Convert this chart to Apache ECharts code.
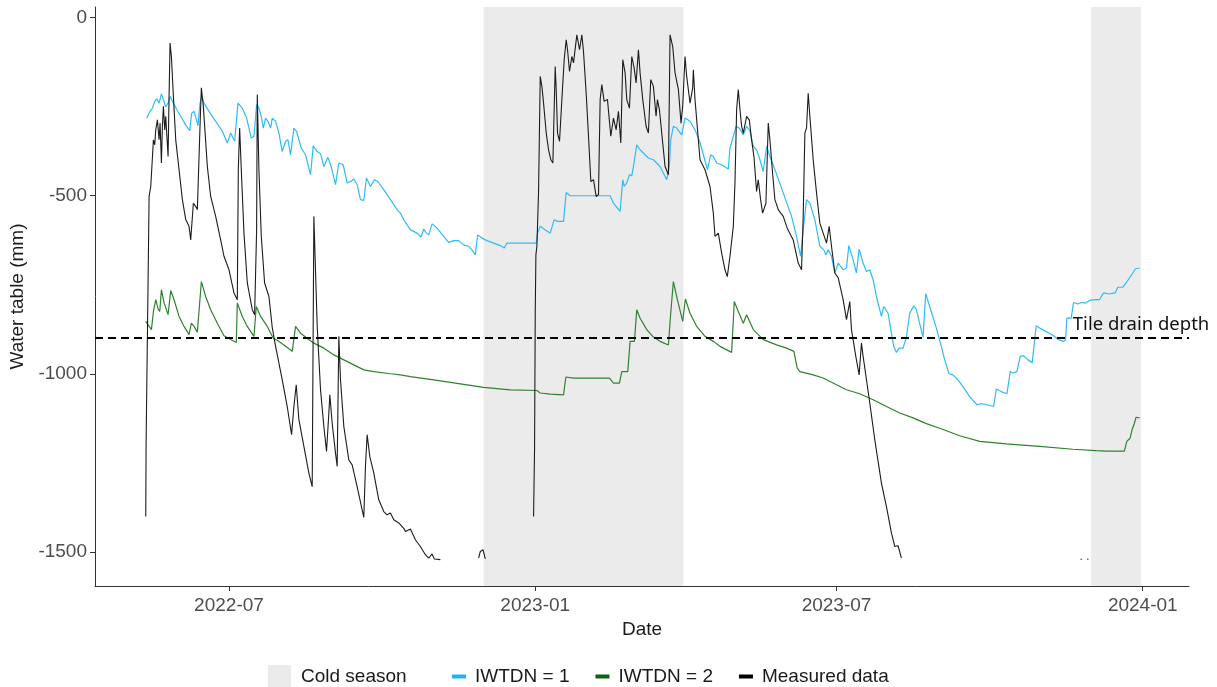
<!DOCTYPE html>
<html>
<head>
<meta charset="utf-8">
<script src="https://cdn.jsdelivr.net/npm/echarts@6/dist/echarts.min.js"></script>
<style>
  html, body { margin: 0; padding: 0; background: #ffffff; }
  #chart { width: 1217px; height: 687px; }
</style>
</head>
<body>
<div id="chart"></div>
<script>
// Day numbers below count days since this date (UTC)
const START_DATE = Date.UTC(2022, 4, 2);
const DAY_MS = 86400000;

// Simulated water table, IWTDN = 1  [day, mm]
const iwtdn1 = [
  [10.6,-282],[11.4,-287],[12.6,-263],[14.0,-254],[15.4,-235],[16.6,-228],[18.0,-240],[19.4,-214],
  [20.6,-230],[22.0,-251],[23.4,-240],[24.6,-221],[26.0,-235],[28.6,-258],[31.0,-277],[34.0,-301],
  [36.4,-317],[37.6,-268],[39.0,-263],[41.4,-303],[42.6,-240],[43.6,-221],[45.0,-240],[48.0,-263],
  [52.0,-291],[56.0,-319],[59.0,-352],[61.0,-324],[63.4,-347],[65.4,-240],[68.0,-254],[70.6,-282],
  [73.4,-338],[75.0,-333],[76.6,-244],[78.0,-254],[79.4,-277],[80.6,-310],[82.0,-282],[83.4,-291],
  [85.0,-310],[86.0,-282],[88.0,-291],[90.0,-324],[92.0,-376],[94.0,-347],[95.4,-343],[97.0,-385],
  [99.0,-310],[100.6,-319],[103.4,-366],[106.0,-385],[109.0,-441],[110.6,-360],[113.0,-376],[115.0,-382],
  [117.0,-418],[119.4,-392],[121.4,-418],[124.0,-469],[126.0,-408],[128.6,-413],[131.0,-464],[133.0,-460],
  [135.0,-453],[137.0,-469],[139.0,-511],[141.0,-513],[142.6,-450],[145.0,-474],[147.4,-455],[149.4,-460],
  [153.0,-483],[157.0,-511],[161.0,-539],[163.0,-549],[165.0,-567],[169.0,-596],[173.0,-605],[175.4,-616],
  [177.0,-594],[178.6,-605],[180.0,-610],[182.0,-579],[185.0,-591],[189.0,-614],[192.0,-631],[195.0,-626],
  [198.0,-626],[201.0,-638],[204.0,-642],[206.0,-652],[208.0,-666],[209.4,-610],[212.0,-619],[215.0,-626],
  [219.0,-633],[223.0,-640],[225.4,-647],[227.0,-633],[244.6,-633],[245.4,-605],[247.0,-586],[250.0,-596],
  [253.0,-605],[255.4,-567],[257.0,-572],[261.0,-572],[262.6,-491],[265.0,-500],[289.0,-500],[291.0,-521],
  [295.0,-544],[296.6,-455],[297.4,-474],[299.0,-464],[300.6,-441],[302.0,-444],[303.0,-418],[305.0,-357],
  [307.0,-371],[310.0,-385],[312.0,-394],[315.0,-399],[319.0,-418],[323.0,-455],[324.6,-418],[325.4,-343],
  [327.0,-305],[329.0,-310],[332.0,-329],[334.0,-282],[337.0,-291],[340.0,-315],[343.0,-350],[345.0,-385],
  [347.5,-427],[349.4,-385],[351.0,-390],[353.0,-408],[356.0,-413],[360.0,-425],[361.0,-366],[363.0,-333],
  [364.6,-305],[366.6,-310],[369.0,-329],[371.0,-305],[373.0,-319],[375.0,-361],[377.0,-371],[379.0,-399],
  [381.0,-432],[383.0,-361],[385.0,-390],[388.0,-427],[393.0,-492],[398.0,-558],[401.0,-614],[403.4,-670],
  [405.0,-596],[407.0,-511],[409.0,-521],[412.0,-567],[415.0,-642],[417.4,-652],[418.6,-666],[420.0,-652],
  [422.0,-670],[424.0,-717],[426.0,-689],[429.0,-708],[431.0,-703],[432.4,-640],[435.0,-680],[437.0,-717],
  [438.6,-650],[441.0,-689],[443.0,-713],[445.0,-708],[447.0,-736],[449.0,-783],[452.0,-839],[453.4,-811],
  [456.0,-830],[458.0,-886],[459.4,-923],[461.0,-940],[462.6,-928],[465.0,-928],[467.0,-897],[469.0,-830],
  [471.4,-809],[473.0,-820],[475.4,-867],[477.0,-897],[478.6,-775],[481.0,-811],[485.0,-872],[488.0,-923],
  [490.0,-961],[492.6,-1000],[495.0,-1003],[498.0,-1017],[501.0,-1036],[505.0,-1064],[509.4,-1087],[512.0,-1084],
  [515.4,-1087],[519.4,-1092],[521.0,-1043],[524.0,-1050],[527.4,-1056],[529.4,-994],[531.0,-998],[533.4,-994],
  [535.4,-951],[537.4,-949],[540.0,-961],[542.6,-968],[545.0,-865],[548.0,-874],[552.0,-884],[555.4,-893],
  [558.0,-903],[561.0,-909],[562.6,-906],[563.4,-844],[566.0,-844],[567.4,-800],[570.0,-804],[572.0,-800],
  [574.6,-801],[577.0,-794],[580.0,-792],[583.0,-792],[585.4,-773],[589.0,-776],[592.6,-772],[594.0,-757],
  [597.0,-757],[599.0,-745],[601.0,-731],[603.0,-717],[604.6,-705],[607.0,-703]
];

// Simulated water table, IWTDN = 2  [day, mm]
const iwtdn2 = [
  [10.0,-853],[12.0,-867],[13.4,-876],[14.6,-825],[16.0,-792],[17.4,-818],[18.4,-825],[19.4,-764],
  [21.0,-801],[23.4,-834],[25.0,-766],[27.0,-792],[30.0,-839],[33.0,-867],[36.0,-890],[37.4,-858],
  [39.0,-867],[41.0,-883],[43.4,-741],[46.0,-783],[49.0,-820],[53.0,-858],[57.0,-893],[61.0,-904],
  [64.4,-912],[65.0,-801],[68.0,-839],[71.0,-867],[75.0,-895],[76.4,-811],[79.0,-839],[83.0,-867],
  [86.6,-900],[89.0,-906],[93.0,-919],[98.0,-937],[100.0,-867],[103.0,-886],[107.0,-900],[111.0,-914],
  [117.0,-928],[123.0,-947],[129.0,-961],[135.0,-975],[141.0,-989],[147.0,-994],[157.0,-1000],[163.0,-1003],
  [169.0,-1008],[183.0,-1017],[203.0,-1031],[213.0,-1038],[229.0,-1045],[245.0,-1047],[247.0,-1054],[253.0,-1057],
  [261.0,-1059],[262.4,-1009],[267.0,-1012],[288.6,-1012],[291.0,-1026],[294.6,-1026],[296.0,-994],[299.6,-994],
  [301.0,-909],[303.6,-909],[305.0,-820],[307.0,-844],[311.0,-876],[315.0,-897],[319.0,-909],[324.0,-919],
  [325.4,-830],[327.0,-741],[329.4,-792],[332.6,-853],[334.2,-790],[337.0,-830],[341.0,-867],[346.0,-895],
  [351.0,-909],[355.0,-923],[362.0,-940],[363.6,-797],[366.0,-825],[369.0,-858],[371.0,-834],[375.0,-876],
  [381.0,-904],[389.0,-919],[395.0,-928],[399.4,-937],[401.4,-984],[403.0,-994],[411.0,-1003],[417.0,-1012],
  [425.0,-1031],[431.0,-1045],[439.0,-1056],[447.0,-1073],[455.0,-1092],[463.0,-1110],[471.0,-1124],[479.0,-1140],
  [487.0,-1153],[495.0,-1167],[499.0,-1174],[511.0,-1190],[527.0,-1197],[547.0,-1204],[567.0,-1212],[581.0,-1216],
  [587.0,-1217],[598.0,-1217],[599.4,-1190],[601.4,-1181],[602.6,-1157],[604.0,-1139],[605.0,-1122],[607.0,-1124]
];

// Measured water table  [day, mm]; null marks missing records
const measured = [
  [10.0,-1401],[10.2,-1195],[11.4,-736],[12.0,-502],[13.0,-474],[14.6,-343],[15.4,-357],[16.0,-315],
  [17.0,-287],[18.0,-343],[18.6,-296],[19.4,-408],[20.0,-305],[20.6,-249],[21.4,-315],[22.0,-277],
  [23.4,-390],[24.0,-221],[24.6,-71],[25.4,-109],[26.6,-221],[28.0,-343],[30.0,-427],[32.0,-511],
  [34.0,-567],[36.0,-586],[37.0,-624],[38.6,-521],[40.0,-530],[41.0,-539],[42.6,-305],[43.4,-197],
  [44.6,-249],[47.0,-418],[49.0,-502],[52.0,-558],[55.0,-624],[57.0,-670],[60.0,-708],[63.0,-773],
  [65.0,-792],[65.6,-427],[66.4,-310],[67.4,-427],[69.0,-605],[71.0,-745],[74.0,-820],[75.4,-834],
  [76.6,-596],[77.0,-216],[78.0,-427],[79.4,-614],[81.4,-745],[84.0,-783],[86.0,-870],[88.0,-923],
  [90.0,-970],[92.0,-1017],[95.0,-1092],[97.6,-1171],[99.0,-1092],[100.4,-1031],[102.0,-1129],[105.0,-1204],
  [108.0,-1279],[110.0,-1317],[111.0,-558],[113.0,-867],[115.0,-1045],[117.0,-1148],[118.6,-1218],[120.0,-1110],
  [120.6,-1059],[122.0,-1139],[124.0,-1223],[125.0,-1260],[126.0,-895],[127.0,-1017],[129.0,-1148],[132.0,-1242],
  [134.0,-1256],[137.0,-1317],[140.0,-1382],[141.0,-1403],[142.0,-1260],[143.0,-1171],[144.6,-1232],[147.0,-1279],
  [150.0,-1354],[153.0,-1387],[155.0,-1396],[157.0,-1391],[159.0,-1410],[162.0,-1419],[165.0,-1434],[166.0,-1443],
  [167.0,-1447],[169.0,-1436],[172.0,-1466],[175.0,-1485],[178.0,-1508],[180.0,-1518],[182.0,-1506],[183.4,-1520],
  [187.0,-1522],[198.0,null],[210.0,-1518],[211.0,-1499],[212.6,-1494],[214.0,-1520],[228.0,null],
  [243.0,-1401],[243.6,-1209],[244.0,-830],[244.4,-666],[245.0,-642],[246.0,-488],[247.0,-165],[248.0,-193],
  [249.0,-240],[250.6,-324],[252.0,-371],[253.4,-399],[254.6,-408],[256.0,-137],[256.6,-202],[257.4,-324],
  [258.6,-347],[260.0,-230],[261.4,-118],[262.6,-62],[263.4,-90],[264.6,-151],[266.0,-109],[267.0,-127],
  [269.0,-48],[270.6,-90],[272.0,-48],[273.0,-95],[274.6,-212],[276.0,-333],[277.4,-460],[279.0,-455],
  [280.6,-502],[282.0,-497],[283.0,-230],[284.0,-188],[285.4,-235],[287.4,-230],[289.4,-333],[291.0,-282],
  [292.6,-315],[294.0,-263],[295.4,-352],[296.6,-118],[298.0,-155],[299.0,-230],[300.6,-254],[302.0,-109],
  [303.4,-141],[304.6,-183],[306.0,-90],[307.0,-155],[308.6,-230],[310.6,-305],[312.0,-324],[313.4,-174],
  [315.0,-193],[316.6,-277],[317.4,-230],[318.6,-258],[320.0,-324],[322.0,-418],[324.0,-441],[325.0,-48],
  [326.6,-81],[328.0,-155],[330.0,-202],[331.6,-296],[332.6,-249],[334.0,-109],[335.0,-165],[337.0,-240],
  [338.6,-197],[339.0,-146],[340.0,-230],[342.0,-343],[343.0,-399],[346.0,-427],[349.0,-474],[351.0,-549],
  [352.0,-614],[354.0,-605],[356.0,-661],[358.0,-708],[359.4,-727],[361.0,-670],[363.0,-586],[364.0,-464],
  [365.0,-258],[366.0,-202],[367.0,-258],[368.0,-305],[369.0,-324],[371.0,-277],[372.6,-287],[374.0,-343],
  [375.4,-390],[377.0,-488],[378.0,-455],[379.4,-511],[380.6,-549],[382.6,-521],[384.0,-296],[385.0,-343],
  [386.6,-436],[388.0,-511],[390.0,-539],[393.0,-558],[395.4,-591],[399.0,-624],[402.0,-689],[404.0,-708],
  [405.0,-558],[406.0,-324],[407.0,-310],[408.0,-212],[409.0,-277],[411.0,-399],[413.0,-492],[415.0,-577],
  [417.0,-605],[419.0,-633],[420.6,-586],[422.0,-642],[424.0,-717],[426.0,-730],[429.0,-792],[431.0,-848],
  [433.0,-797],[434.0,-876],[436.6,-951],[438.6,-1003],[440.0,-914],[441.0,-951],[445.0,-1082],[448.0,-1185],
  [452.0,-1307],[455.0,-1373],[458.0,-1447],[460.0,-1485],[462.0,-1483],[464.0,-1518],[520.0,null],
  [571.6,-1521],[572.4,-1521],[574.0,null],[575.6,-1521],[576.4,-1521]
];

// Cold season periods
const coldSeasons = [
  [[2022, 12, 1], [2023, 3, 31]],
  [[2023, 12, 1], [2023, 12, 31]]
];

const tileDrainDepth = -900;
const tileDrainLabel = 'Tile drain depth';
const tileDrainLabelAt = [[2023, 11, 20], -862];

// Axis ticks and ranges
const xTicks = [[2022, 7, 1], [2023, 1, 1], [2023, 7, 1], [2024, 1, 1]];
const yTicks = [0, -500, -1000, -1500];
const xRange = [Date.UTC(2022, 3, 11, 12), Date.UTC(2024, 0, 28, 19)];
const yRange = [-1596, 30];

const utc = (ymd) => Date.UTC(ymd[0], ymd[1] - 1, ymd[2]);
const toSeries = (rows) => rows.map(([d, v]) => [START_DATE + d * DAY_MS, v]);
const pad2 = (n) => (n < 10 ? '0' : '') + n;

const AXIS_FONT = 'Liberation Sans, Arial, sans-serif';
const COLORS = { cold: '#ebebeb', w1: '#2fbcf5', w2: '#2f822f', meas: '#1c1c1c' };

const chart = echarts.init(document.getElementById('chart'), null, { renderer: 'canvas' });

chart.setOption({
  animation: false,
  backgroundColor: '#ffffff',
  grid: { left: 95, right: 28, top: 7, bottom: 101, containLabel: false, outerBoundsMode: 'none' },
  xAxis: {
    // Dates are plotted as UTC millisecond timestamps on a linear axis
    type: 'value',
    min: xRange[0],
    max: xRange[1],
    name: 'Date',
    nameLocation: 'middle',
    nameGap: 31,
    nameTextStyle: { fontFamily: AXIS_FONT, fontSize: 19, color: '#1a1a1a' },
    axisLine: { show: true, onZero: false, lineStyle: { color: '#333333', width: 1 } },
    axisTick: { show: true, length: 5, lineStyle: { color: '#333333' }, customValues: xTicks.map(utc) },
    axisLabel: {
      customValues: xTicks.map(utc),
      margin: 10,
      fontFamily: AXIS_FONT,
      fontSize: 19,
      color: '#4d4d4d',
      formatter: (v) => { const d = new Date(v); return d.getUTCFullYear() + '-' + pad2(d.getUTCMonth() + 1); }
    },
    splitLine: { show: false }
  },
  yAxis: {
    type: 'value',
    min: yRange[0],
    max: yRange[1],
    name: 'Water table (mm)',
    nameLocation: 'middle',
    nameGap: 50,
    nameTextStyle: { fontFamily: AXIS_FONT, fontSize: 19, color: '#1a1a1a' },
    axisLine: { show: true, onZero: false, lineStyle: { color: '#333333', width: 1 } },
    axisTick: { show: true, length: 5, lineStyle: { color: '#333333' }, customValues: yTicks },
    axisLabel: {
      customValues: yTicks,
      margin: 8,
      fontFamily: AXIS_FONT,
      fontSize: 19,
      color: '#4d4d4d',
      formatter: (v) => String(v)
    },
    splitLine: { show: false }
  },
  legend: [
    {
      data: [{ name: 'Cold season', icon: 'rect' }],
      left: 263,
      top: 660,
      itemWidth: 23,
      itemHeight: 23,
      textStyle: { fontFamily: AXIS_FONT, fontSize: 19, color: '#1a1a1a', padding: [0, 0, 0, 5] },
      selectedMode: false
    },
    {
      data: [
        { name: 'IWTDN = 1', icon: 'rect', itemStyle: { color: '#1fb3f5' } },
        { name: 'IWTDN = 2', icon: 'rect', itemStyle: { color: '#0b640b' } },
        { name: 'Measured data', icon: 'rect', itemStyle: { color: '#000000' } }
      ],
      left: 447,
      top: 662,
      itemWidth: 14,
      itemHeight: 4,
      itemGap: 26,
      textStyle: { fontFamily: AXIS_FONT, fontSize: 19, color: '#1a1a1a', padding: [0, 0, 0, 4] },
      selectedMode: false
    }
  ],
  series: [
    {
      name: 'Cold season',
      type: 'line',
      data: [],
      color: COLORS.cold,
      itemStyle: { color: COLORS.cold },
      z: 0,
      markArea: {
        silent: true,
        itemStyle: { color: COLORS.cold, opacity: 1 },
        data: coldSeasons.map(([a, b]) => [{ xAxis: utc(a) }, { xAxis: utc(b) }])
      }
    },
    {
      name: 'Tile drain',
      type: 'line',
      data: [],
      z: 4,
      markLine: {
        silent: true,
        symbol: ['none', 'none'],
        label: { show: false },
        lineStyle: { color: '#000000', width: 1.8, type: [8, 5] },
        data: [{ yAxis: tileDrainDepth }]
      },
      markPoint: {
        silent: true,
        symbol: 'circle',
        symbolSize: 0,
        data: [{ coord: [utc(tileDrainLabelAt[0]), tileDrainLabelAt[1]] }],
        label: {
          show: true,
          position: 'right',
          distance: 0,
          formatter: tileDrainLabel,
          fontFamily: 'Noto Sans, Open Sans, sans-serif',
          fontSize: 18.5,
          color: '#111111'
        }
      }
    },
    {
      name: 'IWTDN = 1',
      type: 'line',
      data: toSeries(iwtdn1),
      showSymbol: false,
      symbol: 'none',
      color: COLORS.w1,
      lineStyle: { color: COLORS.w1, width: 1.2 },
      z: 2
    },
    {
      name: 'IWTDN = 2',
      type: 'line',
      data: toSeries(iwtdn2),
      showSymbol: false,
      symbol: 'none',
      color: COLORS.w2,
      lineStyle: { color: COLORS.w2, width: 1.2 },
      z: 2
    },
    {
      name: 'Measured data',
      type: 'line',
      data: toSeries(measured),
      showSymbol: false,
      symbol: 'none',
      connectNulls: false,
      color: COLORS.meas,
      lineStyle: { color: COLORS.meas, width: 1.1 },
      z: 3
    }
  ]
});
</script>
</body>
</html>
